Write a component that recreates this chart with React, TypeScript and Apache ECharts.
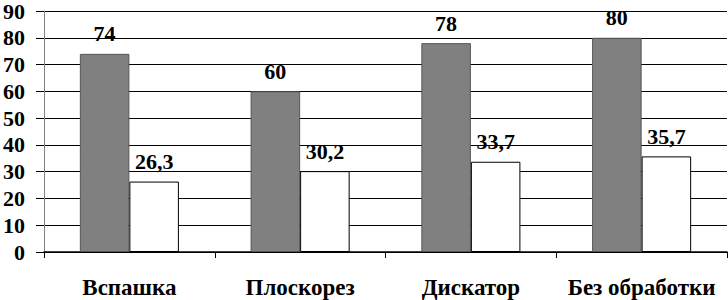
import React, { useEffect, useRef } from "react";
import * as echarts from "echarts";

const categories = ["Вспашка", "Плоскорез", "Дискатор", "Без обработки"];
const seriesA = [74, 60, 78, 80];
const seriesB = [26.3, 30.2, 33.7, 35.7];
const yTicks = { min: 0, max: 90, interval: 10 };

const fmt = (v: number) => String(v).replace(".", ",");
const FONT = "Times New Roman, Liberation Serif, DejaVu Serif, serif";

export default function App() {
  const ref = useRef<HTMLDivElement>(null);
  useEffect(() => {
    document.body.style.margin = "0";
    const chart = echarts.init(ref.current!, null, { renderer: "svg" });
    const label = {
      show: true,
      position: "top",
      distance: 9,
      color: "#000",
      fontFamily: FONT,
      fontWeight: "bold",
      fontSize: 22,
      formatter: (p: any) => fmt(p.value),
    };
    chart.setOption({
      animation: false,
      backgroundColor: "#ffffff",
      textStyle: { fontFamily: FONT },
      grid: { left: 41, right: 1, top: 7, bottom: 48, containLabel: false },
      xAxis: {
        type: "category",
        data: categories,
        axisLine: { show: true, lineStyle: { color: "#000", width: 1.5 } },
        axisTick: { show: true, length: 6, lineStyle: { color: "#000" } },
        axisLabel: {
          interval: 0,
          color: "#000",
          fontFamily: FONT,
          fontWeight: "bold",
          fontSize: 23,
          margin: 24,
        },
        splitLine: { show: false },
      },
      yAxis: {
        type: "value",
        min: yTicks.min,
        max: yTicks.max,
        interval: yTicks.interval,
        axisLine: { show: true, lineStyle: { color: "#808080", width: 1 } },
        axisTick: { show: true, length: 8, lineStyle: { color: "#000" } },
        axisLabel: {
          color: "#000",
          fontFamily: FONT,
          fontWeight: "bold",
          fontSize: 22,
          margin: 19,
        },
        splitLine: { show: true, lineStyle: { color: "#000", width: 1 } },
      },
      series: [
        {
          type: "bar",
          data: seriesA,
          barWidth: "29%",
          barGap: "0%",
          itemStyle: { color: "#808080", borderColor: "#555", borderWidth: 1 },
          label,
        },
        {
          type: "bar",
          data: seriesB,
          barWidth: "29%",
          itemStyle: { color: "#ffffff", borderColor: "#000", borderWidth: 1 },
          label,
        },
      ],
    });
    return () => chart.dispose();
  }, []);
  return <div ref={ref} style={{ width: 728, height: 300 }} />;
}
